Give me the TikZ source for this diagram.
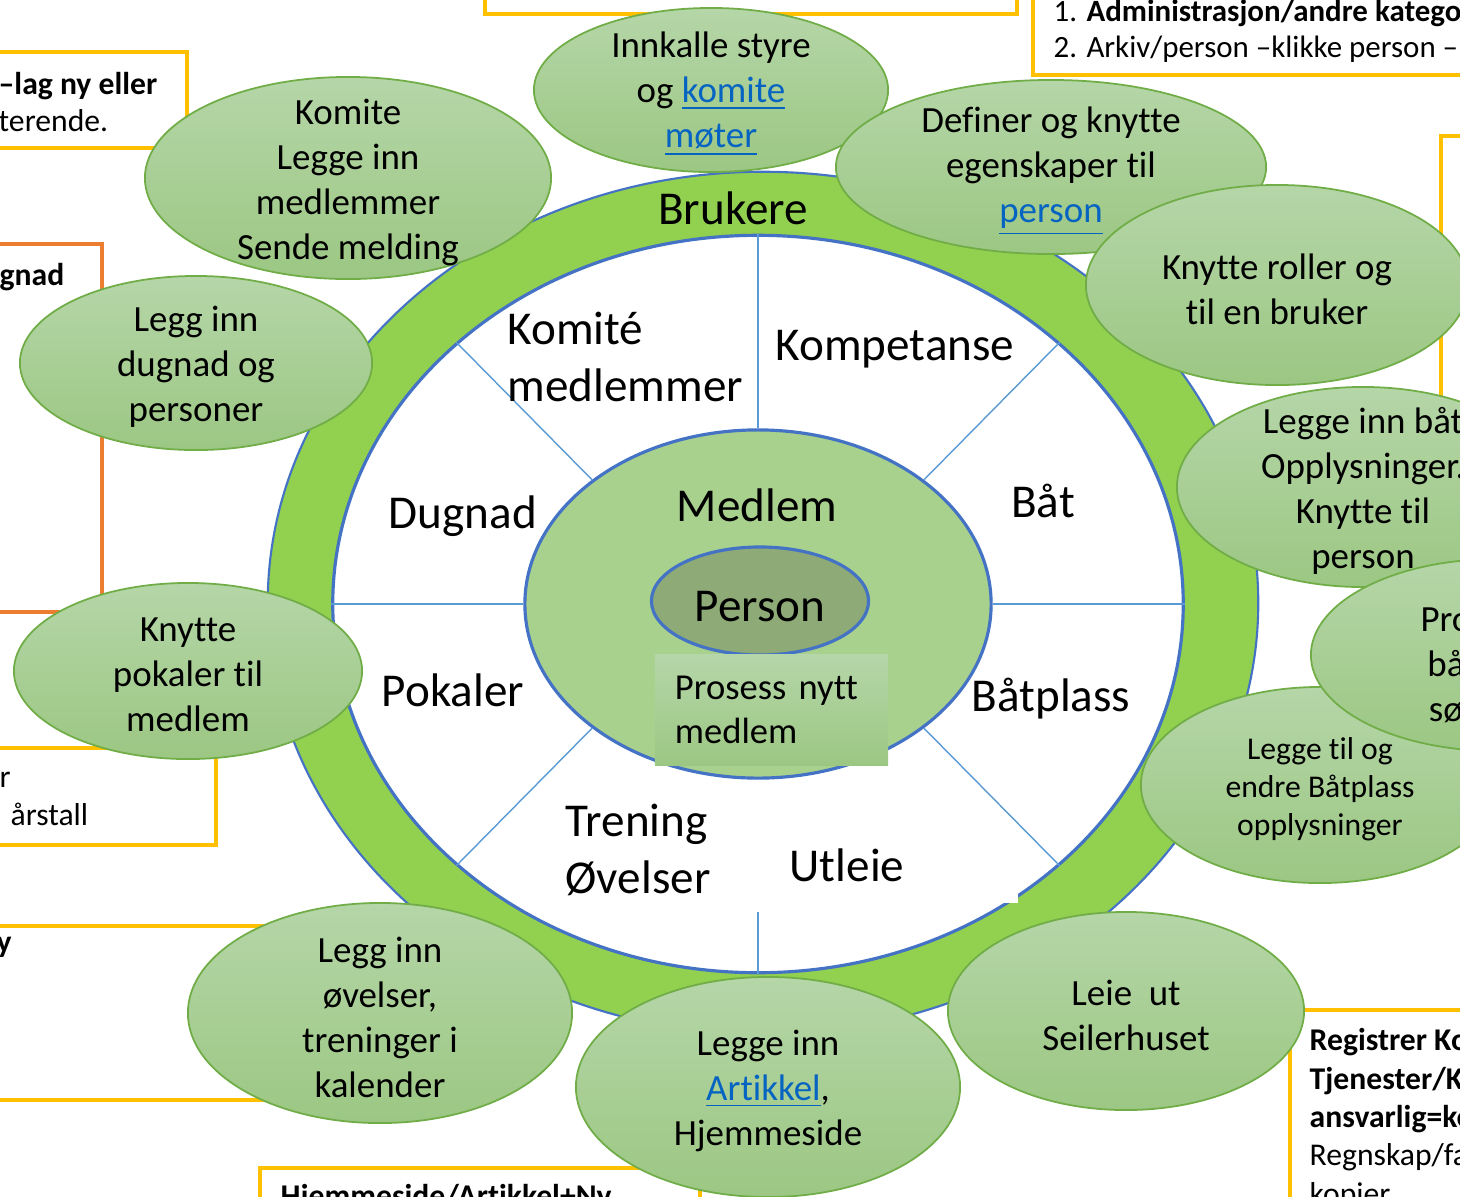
\documentclass[tikz,border=0pt]{standalone}
\usepackage{fontspec}
\setmainfont{Carlito}[Ligatures=NoCommon]
\usepackage{tikz}
\usetikzlibrary{shapes.geometric}

\definecolor{ringgreen}{HTML}{92D050}
\definecolor{ringblue}{HTML}{4472C4}
\definecolor{spokeblue}{HTML}{5B9BD5}
\definecolor{medlemgreen}{HTML}{A9D18E}
\definecolor{persongreen}{HTML}{8EAA76}
\definecolor{bubtop}{HTML}{B5D6A8}
\definecolor{bubbot}{HTML}{9CC783}
\definecolor{bubline}{HTML}{70AD47}
\definecolor{boxyellow}{HTML}{FFC000}
\definecolor{boxorange}{HTML}{ED7D31}
\definecolor{linkblue}{HTML}{0563C1}

\newcommand{\lnk}[1]{\textcolor{linkblue}{\underline{#1}}}

\begin{document}
\begin{tikzpicture}[x=0.01cm, y=-0.01cm]
      \tikzstyle{bubble} = [
        ellipse,
        draw=bubline,
        line width=0.5pt,
        top color=bubtop,
        bottom color=bubbot,
        inner sep=0pt
      ]

      \tikzstyle{bubtext} = [
        align=center,
        font=\fontsize{10.5}{12.8}\selectfont,
        inner sep=0pt,
        yshift=-0.04cm
      ]

      \tikzstyle{ringlabel} = [
        font=\fontsize{13.4}{16.2}\selectfont,
        inner sep=0pt,
        yshift=-0.02cm
      ]

      \tikzstyle{boxtext} = [
        align=left,
        font=\fontsize{9}{10.8}\selectfont,
        inner sep=0pt
      ]

      \tikzstyle{yellowbox} = [draw=boxyellow, line width=1pt]
      \tikzstyle{orangebox} = [draw=boxorange, line width=1pt]
      \tikzstyle{spoke} = [draw=spokeblue, line width=0.4pt]

      \useasboundingbox (0,0) rectangle (1460,1196);
      \clip (0,0) rectangle (1460,1196);
      \fill[white] (0,0) rectangle (1460,1196);

      % boxes behind the wheel
      \draw[yellowbox] (485,-20) rectangle (1017,14);
      \draw[yellowbox] (1033,-20) rectangle (1500,75);
      \node[boxtext, anchor=west, font=\fontsize{8.8}{10.2}\selectfont]
        (admtext) at (1053,31)
        {1. \textbf{Administrasjon/andre katego}\\2. Arkiv/person –klikke person –};
      \draw[yellowbox] (-20,52) rectangle (187,148);
      \node[boxtext, anchor=west] (lagtext) at (-2,102)
        {\textbf{–lag ny eller}\\terende.};
      \draw[orangebox] (-20,244) rectangle (102,612);
      \node[boxtext, anchor=west] (gnadtext) at (-1,277) {\textbf{gnad}};
      \draw[yellowbox] (-20,748) rectangle (216,845);
      \node[boxtext, anchor=west] (aartext) at (-1,799)
        {r\\\hspace*{3.1pt}årstall};
      \draw[yellowbox] (-20,926) rectangle (320,1100);
      \node[boxtext, anchor=west] (ytext) at (-4,947) {\textbf{y}};
      \draw[yellowbox] (260,1168) rectangle (700,1230);
      \node[boxtext, anchor=base west] (hjemtext) at (280,1206)
        {\textbf{Hjemmeside/Artikkel+Ny}};
      \draw[yellowbox] (1441,136) rectangle (1500,420);
      \draw[yellowbox] (1290,1010) rectangle (1500,1230);
      \node[boxtext, anchor=west, font=\fontsize{9}{10.9}\selectfont]
        (regtext) at (1309,1119)
        {\textbf{Registrer Ko}\\\textbf{Tjenester/K}\\\textbf{ansvarlig=ko}\\Regnskap/fa\\kopier};

      % the wheel
      \node[ellipse, fill=ringgreen, draw=ringblue, line width=0.6pt,
        minimum width=9.9cm, minimum height=8.62cm, inner sep=0pt]
        (ring) at (763,603) {};
      \node[ellipse, fill=white, draw=ringblue, line width=0.9pt,
        minimum width=8.5cm, minimum height=7.37cm, inner sep=0pt]
        (inner) at (758,604) {};
      \node[ellipse, fill=medlemgreen, draw=ringblue, line width=0.9pt,
        minimum width=4.66cm, minimum height=3.48cm, inner sep=0pt]
        (medlem) at (758,604) {};

      \draw[spoke] (medlem.west) -- (inner.west);
      \draw[spoke] (medlem.east) -- (inner.east);
      \draw[spoke] (medlem.north) -- (inner.north);
      \draw[spoke] (medlem.north west) -- (inner.north west);
      \draw[spoke] (medlem.north east) -- (inner.north east);
      \draw[spoke] (medlem.south west) -- (inner.south west);
      \draw[spoke] (medlem.south east) -- (inner.south east);
      \coordinate (spokeend) at (758,912);
      \draw[spoke] (spokeend) -- (inner.south);
      \fill[white] (1003,893) rectangle (1018,903);

      \node[ellipse, fill=persongreen, draw=ringblue, line width=0.9pt,
        minimum width=2.17cm, minimum height=1.08cm, inner sep=0pt,
        label={[ringlabel, yshift=-0.04cm]center:Person}]
        (person) at (760,601) {};
      \node[rectangle, top color=bubtop, bottom color=bubbot,
        minimum height=1.10cm, text width=1.93cm, align=left,
        inner xsep=0.2cm, inner ysep=0pt,
        font=\fontsize{10.4}{12.5}\selectfont]
        (prosess) at (771.5,710) {Prosess nytt\\medlem};

      \node[ringlabel] (brukere) at (733,206) {Brukere};
      \node[ringlabel, align=left, anchor=west] (komlabel) at (507,355)
        {Komité\\medlemmer};
      \node[ringlabel] (kompetanse) at (895,347) {Kompetanse};
      \node[ringlabel] (dugnad) at (463,514) {Dugnad};
      \node[ringlabel] (baat) at (1043,499) {Båt};
      \node[ringlabel] (medlemtxt) at (757,503) {Medlem};
      \node[ringlabel] (pokaler) at (453,688) {Pokaler};
      \node[ringlabel] (baatplass) at (1051,697) {Båtplass};
      \node[ringlabel, align=left, anchor=west] (trening) at (565,848)
        {Trening\\Øvelser};
      \node[ringlabel] (utleie) at (847,863) {Utleie};

      % bubbles round the wheel
      \node[bubble, minimum width=3.54cm, minimum height=1.64cm,
        label={[bubtext]center:{Innkalle styre\\og \lnk{komite}\\\lnk{møter}}}]
        (innkalle) at (711,90) {};
      \node[bubble, minimum width=4.30cm, minimum height=1.74cm,
        label={[bubtext]center:{Definer og knytte\\egenskaper til\\\lnk{person}}}]
        (definer) at (1051,167) {};
      \node[bubble, minimum width=3.82cm, minimum height=2.00cm,
        label={[bubtext]center:{Knytte roller og\\til en bruker}}]
        (roller) at (1277,285) {};
      \node[bubble, minimum width=4.06cm, minimum height=2.02cm,
        label={[bubtext]center:{Komite\\Legge inn\\medlemmer\\Sende melding}}]
        (komite) at (348,178) {};
      \node[bubble, minimum width=3.52cm, minimum height=1.74cm,
        label={[bubtext]center:{Legg inn\\dugnad og\\personer}}]
        (dugnadb) at (196,363) {};
      \node[bubble, minimum width=3.48cm, minimum height=1.76cm,
        label={[bubtext]center:{Knytte\\pokaler til\\medlem}}]
        (pokalb) at (188,671) {};
      \node[bubble, minimum width=3.72cm, minimum height=2.00cm,
        label={[bubtext]center:{Legge inn båt\\Opplysninger.\\Knytte til\\person}}]
        (baatb) at (1363,487) {};
      \node[bubble, minimum width=3.58cm, minimum height=1.96cm,
        label={[bubtext, font=\fontsize{9}{10.8}\selectfont]center:{Legge til og\\endre Båtplass\\opplysninger}}]
        (plassb) at (1320,785) {};
      \node[bubble, minimum width=3.72cm, minimum height=1.92cm,
        label={[bubtext, xshift=-0.51cm, yshift=-0.06cm]center:{Pro\\bå\\sø}}]
        (prob) at (1497,655) {};
      \node[bubble, minimum width=3.84cm, minimum height=2.20cm,
        label={[bubtext]center:{Legg inn\\øvelser,\\treninger i\\kalender}}]
        (ovelse) at (380,1013) {};
      \node[bubble, minimum width=3.84cm, minimum height=2.20cm,
        label={[bubtext]center:{Legge inn\\\lnk{Artikkel},\\Hjemmeside}}]
        (artikkel) at (768,1087) {};
      \node[bubble, minimum width=3.56cm, minimum height=1.98cm,
        label={[bubtext]center:{Leie\ \ ut\\Seilerhuset}}]
        (leie) at (1126,1011) {};
    \end{tikzpicture}
\end{document}
